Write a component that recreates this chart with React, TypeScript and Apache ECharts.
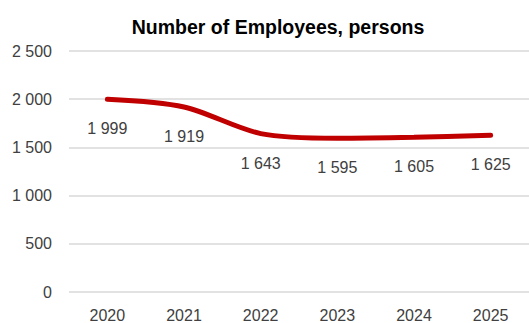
import React, { useEffect, useRef } from "react";
import * as echarts from "echarts";

const title = "Number of Employees, persons";
const categories = ["2020", "2021", "2022", "2023", "2024", "2025"];
const employees = [1999, 1919, 1643, 1595, 1605, 1625];
const yTicks = { min: 0, max: 2500, interval: 500 };

const fmt = (v: number) => {
  const s = String(Math.round(v));
  return s.replace(/\B(?=(\d{3})+(?!\d))/g, " ");
};

export default function App() {
  const ref = useRef<HTMLDivElement>(null);
  useEffect(() => {
    if (!ref.current) return;
    const chart = echarts.init(ref.current, null, { renderer: "svg" });
    chart.setOption({
      animation: false,
      backgroundColor: "#ffffff",
      title: {
        text: title,
        left: 273,
        textAlign: "center",
        top: 12,
        textStyle: {
          fontFamily: "Liberation Sans",
          fontWeight: "bold",
          fontSize: 19.5,
          color: "#000000",
        },
      },
      grid: { left: 69, right: -6, top: 51, bottom: 30 },
      xAxis: {
        type: "category",
        data: categories,
        boundaryGap: true,
        axisLine: { show: false },
        axisTick: { show: false },
        axisLabel: {
          margin: 15,
          fontFamily: "Liberation Sans",
          fontSize: 16,
          color: "#404040",
        },
      },
      yAxis: {
        type: "value",
        min: yTicks.min,
        max: yTicks.max,
        interval: yTicks.interval,
        axisLine: { show: false },
        axisTick: { show: false },
        splitLine: { lineStyle: { color: "#d9d9d9", width: 1.5 } },
        axisLabel: {
          margin: 17,
          fontFamily: "Liberation Sans",
          fontSize: 16,
          color: "#404040",
          formatter: (v: number) => fmt(v),
        },
      },
      series: [
        {
          type: "line",
          data: employees,
          smooth: 0.3,
          symbol: "circle",
          symbolSize: 1,
          showSymbol: true,
          itemStyle: { color: "#c00000", opacity: 0 },
          lineStyle: { color: "#c00000", width: 5, cap: "round" },
          label: {
            show: true,
            position: "bottom",
            distance: 21,
            fontFamily: "Liberation Sans",
            fontSize: 16,
            color: "#404040",
            opacity: 1,
            formatter: (p: any) => fmt(p.value),
          },
        },
      ],
    });
    return () => chart.dispose();
  }, []);
  return <div ref={ref} style={{ width: 529, height: 323, position: "absolute", left: 0, top: 0 }} />;
}
